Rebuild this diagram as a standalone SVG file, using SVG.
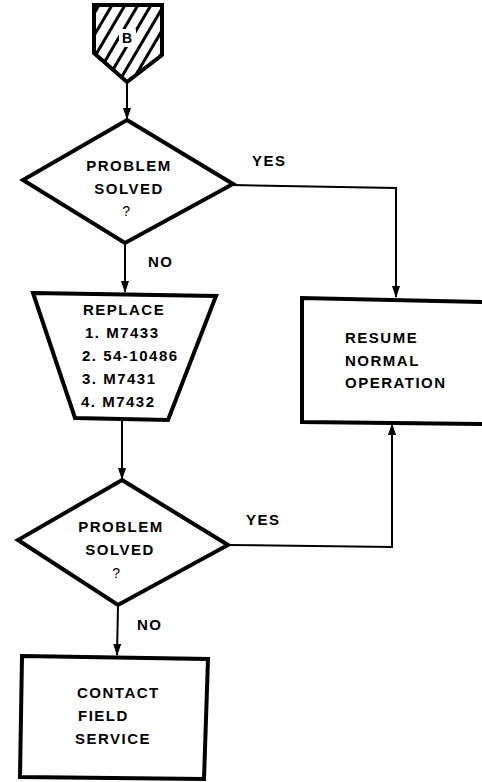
<svg xmlns="http://www.w3.org/2000/svg" width="482" height="782" viewBox="0 0 482 782">
<style>
.shape{fill:#fff;stroke:#000;stroke-width:4;stroke-linejoin:miter}
.conn{fill:none;stroke:#000;stroke-width:2}
.hatch{stroke:#000;stroke-width:3}
text{font-family:"Liberation Sans",Arial,sans-serif;font-weight:bold;font-size:15px;letter-spacing:1.5px;fill:#000}
.c{text-anchor:middle}
</style>
<defs>
<marker id="arr" markerUnits="userSpaceOnUse" markerWidth="12" markerHeight="9" refX="11" refY="4.5" orient="auto">
<path d="M0,0.5 L12,4.5 L0,8.5 Z" fill="#000"/>
</marker>
<clipPath id="pent">
<polygon points="94,5 162,5 162,55 127,82 94,53"/>
</clipPath>
</defs>

<g id="connectors">
<line class="conn" x1="127" y1="82" x2="127" y2="119" marker-end="url(#arr)"/>
<line class="conn" x1="125" y1="243" x2="125" y2="292" marker-end="url(#arr)"/>
<polyline class="conn" points="233,185 396,188 396,297" marker-end="url(#arr)"/>
<line class="conn" x1="122" y1="420" x2="122" y2="479" marker-end="url(#arr)"/>
<polyline class="conn" points="228,545 392,547 392,424" marker-end="url(#arr)"/>
<line class="conn" x1="118" y1="605" x2="117" y2="655" marker-end="url(#arr)"/>
<text x="148" y="267">NO</text>
<text x="252" y="166">YES</text>
<text x="246" y="525">YES</text>
<text x="137" y="630">NO</text>
</g>

<g id="start_B">
<g clip-path="url(#pent)">
<polygon points="94,5 162,5 162,55 127,82 94,53" fill="#fff"/>
<g class="hatch">
<line x1="36" y1="90" x2="89" y2="0"/>
<line x1="49" y1="90" x2="102" y2="0"/>
<line x1="62" y1="90" x2="115" y2="0"/>
<line x1="75" y1="90" x2="128" y2="0"/>
<line x1="88" y1="90" x2="141" y2="0"/>
<line x1="101" y1="90" x2="154" y2="0"/>
<line x1="114" y1="90" x2="167" y2="0"/>
<line x1="127" y1="90" x2="180" y2="0"/>
<line x1="140" y1="90" x2="193" y2="0"/>
</g>
<rect x="119" y="29" width="17" height="18" fill="#fff"/>
</g>
<polygon points="94,5 162,5 162,55 127,82 94,53" fill="none" stroke="#000" stroke-width="4" stroke-linejoin="miter"/>
<text x="127" y="43" class="c" style="font-size:14px;letter-spacing:0">B</text>
</g>

<g id="decision1">
<polygon class="shape" points="127,120 233,184 125,243 23,180"/>
<text class="c" x="129" y="171">PROBLEM</text>
<text class="c" x="129" y="194">SOLVED</text>
<text class="c" x="127" y="216" style="font-weight:normal;font-size:14px">?</text>
</g>

<g id="replace">
<polygon class="shape" points="33,293 216,296 168,420 75,418"/>
<text x="83" y="315">REPLACE</text>
<text x="85" y="338">1. M7433</text>
<text x="82" y="361">2. 54-10486</text>
<text x="82" y="384">3. M7431</text>
<text x="81" y="407">4. M7432</text>
</g>

<g id="resume">
<polyline class="shape" points="486,302 302,298 302,422 486,424"/>
<text x="345" y="343">RESUME</text>
<text x="345" y="366">NORMAL</text>
<text x="345" y="388">OPERATION</text>
</g>

<g id="decision2">
<polygon class="shape" points="122,480 228,545 118,605 18,540"/>
<text class="c" x="121" y="532">PROBLEM</text>
<text class="c" x="120" y="555">SOLVED</text>
<text class="c" x="117" y="578" style="font-weight:normal;font-size:14px">?</text>
</g>

<g id="contact">
<polygon class="shape" points="22,656 208,659 204,779 20,777"/>
<text x="77" y="698">CONTACT</text>
<text x="78" y="721">FIELD</text>
<text x="75" y="744">SERVICE</text>
</g>
</svg>
